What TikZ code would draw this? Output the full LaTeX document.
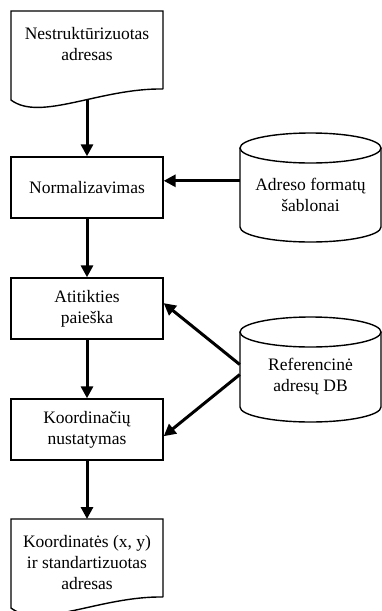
\documentclass[tikz,border=0pt]{standalone}
\usepackage{fontspec}
\setmainfont{Liberation Serif}
\usetikzlibrary{arrows.meta}

\tikzset{
  every node/.style={font=\fontsize{17.5}{21}\selectfont},
  outline/.style={line width=1.4pt},
  proc/.style={draw, line width=1.4pt, minimum width=152pt, minimum height=61pt, align=center, inner sep=2pt},
  txt/.style={align=center, inner sep=0pt},
  flow/.style={line width=3pt, -{Triangle[length=12pt,width=12pt]}},
}

\begin{document}
\begin{tikzpicture}[x=1pt, y=-1pt]
\useasboundingbox (0,0) rectangle (382,611);

% input document
\draw[outline] (163,89) -- (163,11) -- (11,11) -- (11,100)
  .. controls (40,122) and (100,88) .. (163,89);
\node[txt] (src) at (87,44) {Nestruktūrizuotas\\adresas};
\coordinate (src-out) at (87,100);

% steps
\node[proc] (norm) at (87,187.5) {Normalizavimas};
\node[proc] (match) at (87,308.5) {Atitikties\\paieška};
\node[proc] (coord) at (87,429.5) {Koordinačių\\nustatymas};

% output document
\draw[outline] (163,597) -- (163,519) -- (11,519) -- (11,608)
  .. controls (40,630) and (100,596) .. (163,597);
\node[txt] (dst) at (87,563) {Koordinatės (x, y)\\ir standartizuotas\\adresas};
\coordinate (dst-in) at (87,519);

% databases
\draw[outline] (240,148) -- (240,227) arc[start angle=180, end angle=0, x radius=70.5, y radius=15] -- (381,148);
\draw[outline] (310.5,148) ellipse [x radius=70.5, y radius=15];
\node[txt, minimum width=141pt, minimum height=94pt] (fmt) at (310.5,195) {Adreso formatų\\šablonai};

\draw[outline] (240,332) -- (240,407) arc[start angle=180, end angle=0, x radius=70.5, y radius=15] -- (381,332);
\draw[outline] (310.5,332) ellipse [x radius=70.5, y radius=15];
\node[txt, minimum width=141pt, minimum height=90pt] (refdb) at (310.5,377) {Referencinė\\adresų DB};

% flow
\draw[flow] (src-out) -- (norm);
\draw[flow] (norm) -- (match);
\draw[flow] (match) -- (coord);
\draw[flow] (coord) -- (dst-in);
\draw[flow] (fmt.west |- norm.5) -- (norm.5);
\draw[flow] (refdb.170) -- (match.4);
\draw[flow] (refdb.178) -- (coord.-5);

\end{tikzpicture}
\end{document}
